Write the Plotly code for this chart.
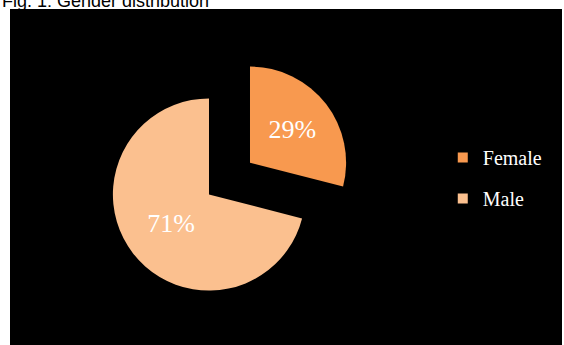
import plotly.graph_objects as go

categories = ["Female", "Male"]
values = [29, 71]
colors = ["#F8994F", "#FBC08F"]
pulls = [0.54, 0]
title_text = "Fig. 1: Gender distribution"

W, H = 564, 345
L, T, R, B = 10, 9, 2, 0
pw, ph = W - L - R, H - T - B

fig = go.Figure()
fig.add_trace(go.Pie(
    labels=categories, values=values, sort=False, direction="clockwise", rotation=0,
    pull=pulls, marker=dict(colors=colors, line=dict(width=0)),
    texttemplate="%{percent:.0%}", textposition="inside", insidetextorientation="horizontal",
    textfont=dict(family="Liberation Serif", size=26, color="white"),
    showlegend=False, hoverinfo="label+percent",
    domain=dict(x=[0.0924, 0.6286], y=[0.0074, 0.8884]),
))

for i, (c, col) in enumerate(zip(categories, colors)):
    fig.add_trace(go.Scatter(
        x=[None], y=[None], mode="markers", name=c, legendgroup=c,
        marker=dict(symbol="square", size=10, color=col),
    ))

fig.add_annotation(text=title_text, xref="paper", yref="paper",
                   x=-L / pw, y=1 - 4 / ph, xanchor="left", yanchor="bottom",
                   showarrow=False, font=dict(family="Liberation Sans", size=18, color="black"))

fig.update_layout(
    width=W, height=H, margin=dict(l=L, r=R, t=T, b=B, pad=0),
    paper_bgcolor="white", plot_bgcolor="black",
    xaxis=dict(visible=False), yaxis=dict(visible=False),
    legend=dict(x=0.784, y=0.497, xanchor="left", yanchor="middle",
                font=dict(family="Liberation Serif", size=20, color="white"),
                bgcolor="rgba(0,0,0,0)", tracegroupgap=12),
)

fig.write_html("out.html")
